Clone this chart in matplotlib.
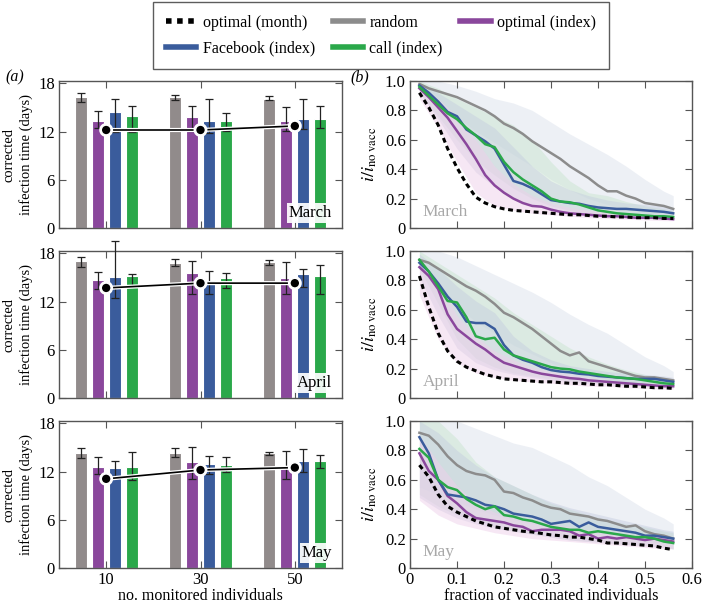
import matplotlib
matplotlib.use('Agg')
import matplotlib.pyplot as plt
import matplotlib.patheffects as pe
from matplotlib.lines import Line2D
from matplotlib.ticker import FuncFormatter
import numpy as np

plt.rcParams['font.family'] = 'serif'
plt.rcParams['font.serif'] = ['Liberation Serif', 'DejaVu Serif']
plt.rcParams['mathtext.fontset'] = 'stix'
plt.rcParams['font.size'] = 11

# Colours
c_rand = '#918b8b'
c_opt = '#8a479c'
c_fb = '#3a5c9c'
c_call = '#2aa84a'

months = ['March', 'April', 'May']
groups = [10, 30, 50]

# Bar data (rows: March, April, May; columns: 10, 30, 50 monitored)
rand_mean = [[16.3, 16.3, 16.1], [17.0, 16.8, 16.9], [14.3, 14.3, 14.3]]
rand_lo = [[15.7, 15.9, 15.9], [16.3, 16.4, 16.6], [13.7, 13.8, 14.1]]
rand_hi = [[16.8, 16.6, 16.4], [17.6, 17.3, 17.2], [15.0, 14.9, 14.5]]
opt_mean = [[13.3, 13.8, 13.3], [14.7, 15.6, 15.0], [12.6, 13.2, 12.8]]
opt_lo = [[12.4, 12.1, 12.1], [13.6, 12.9, 12.9], [11.7, 11.1, 11.1]]
opt_hi = [[14.6, 15.2, 15.1], [15.7, 17.0, 16.9], [13.8, 15.1, 14.6]]
fb_mean = [[14.5, 13.3, 13.6], [15.1, 14.7, 15.4], [12.4, 12.9, 13.3]]
fb_lo = [[12.0, 11.8, 12.3], [12.5, 13.0, 13.8], [11.5, 11.7, 11.9]]
fb_hi = [[16.1, 16.0, 16.1], [19.5, 15.8, 16.1], [13.3, 14.0, 14.8]]
call_mean = [[13.9, 13.3, 13.6], [15.2, 14.9, 15.2], [12.6, 12.8, 13.3]]
call_lo = [[12.0, 12.1, 12.5], [13.9, 13.7, 12.9], [10.9, 12.0, 12.4]]
call_hi = [[15.2, 14.3, 15.2], [15.4, 15.5, 16.6], [14.5, 13.8, 14.1]]
month_opt = [[12.2, 12.2, 12.7], [13.7, 14.3, 14.3], [11.1, 12.2, 12.5]]

# Line data
frac = [0.02, 0.04, 0.06, 0.08, 0.10, 0.12, 0.14, 0.16, 0.18, 0.20,
        0.22, 0.24, 0.26, 0.28, 0.30, 0.32, 0.34, 0.36, 0.38, 0.40,
        0.42, 0.44, 0.46, 0.48, 0.50, 0.52, 0.54, 0.56]

line_month = [
    [0.92, 0.82, 0.70, 0.54, 0.41, 0.30, 0.21, 0.17, 0.145, 0.13, 0.12, 0.115, 0.11, 0.105,
     0.10, 0.095, 0.09, 0.09, 0.085, 0.08, 0.08, 0.075, 0.075, 0.07, 0.07, 0.07, 0.065, 0.065],
    [0.83, 0.62, 0.44, 0.32, 0.25, 0.21, 0.185, 0.16, 0.145, 0.13, 0.125, 0.12, 0.115, 0.11,
     0.11, 0.105, 0.10, 0.10, 0.095, 0.09, 0.09, 0.085, 0.08, 0.08, 0.075, 0.07, 0.07, 0.065],
    [0.70, 0.62, 0.50, 0.42, 0.38, 0.35, 0.32, 0.30, 0.28, 0.27, 0.26, 0.25, 0.245, 0.235,
     0.225, 0.22, 0.21, 0.21, 0.20, 0.19, 0.17, 0.17, 0.165, 0.16, 0.155, 0.15, 0.135, 0.125],
]
line_rand = [
    [0.98, 0.95, 0.93, 0.91, 0.89, 0.86, 0.83, 0.80, 0.76, 0.71, 0.68, 0.64, 0.59, 0.55,
     0.51, 0.47, 0.42, 0.38, 0.34, 0.29, 0.25, 0.25, 0.22, 0.20, 0.17, 0.16, 0.15, 0.13],
    [0.94, 0.92, 0.88, 0.84, 0.80, 0.76, 0.73, 0.69, 0.64, 0.58, 0.55, 0.51, 0.47, 0.42,
     0.37, 0.32, 0.29, 0.31, 0.25, 0.23, 0.21, 0.19, 0.17, 0.15, 0.14, 0.14, 0.13, 0.12],
    [0.92, 0.90, 0.84, 0.76, 0.70, 0.66, 0.64, 0.63, 0.60, 0.52, 0.51, 0.48, 0.46, 0.43,
     0.41, 0.40, 0.37, 0.36, 0.35, 0.33, 0.32, 0.30, 0.28, 0.29, 0.25, 0.23, 0.22, 0.20],
]
line_opt = [
    [0.95, 0.89, 0.82, 0.75, 0.66, 0.57, 0.47, 0.36, 0.29, 0.24, 0.20, 0.17, 0.15, 0.145,
     0.125, 0.11, 0.10, 0.095, 0.09, 0.085, 0.08, 0.08, 0.075, 0.07, 0.07, 0.07, 0.065, 0.06],
    [0.89, 0.83, 0.74, 0.57, 0.47, 0.42, 0.37, 0.33, 0.28, 0.24, 0.22, 0.20, 0.18, 0.165,
     0.155, 0.145, 0.135, 0.13, 0.12, 0.115, 0.11, 0.105, 0.10, 0.095, 0.09, 0.085, 0.08, 0.08],
    [0.78, 0.66, 0.60, 0.49, 0.44, 0.38, 0.34, 0.33, 0.32, 0.31, 0.29, 0.28, 0.25, 0.26,
     0.26, 0.26, 0.25, 0.22, 0.23, 0.20, 0.21, 0.20, 0.21, 0.20, 0.19, 0.20, 0.19, 0.18],
]
line_fb = [
    [0.97, 0.92, 0.86, 0.79, 0.76, 0.67, 0.63, 0.59, 0.54, 0.43, 0.32, 0.30, 0.27, 0.23,
     0.19, 0.18, 0.17, 0.165, 0.15, 0.14, 0.135, 0.13, 0.13, 0.125, 0.12, 0.115, 0.11, 0.10],
    [0.92, 0.86, 0.78, 0.69, 0.62, 0.52, 0.51, 0.51, 0.47, 0.36, 0.29, 0.26, 0.24, 0.21,
     0.19, 0.18, 0.175, 0.165, 0.16, 0.15, 0.145, 0.14, 0.135, 0.13, 0.13, 0.13, 0.12, 0.11],
    [0.89, 0.78, 0.60, 0.50, 0.49, 0.48, 0.46, 0.43, 0.42, 0.40, 0.37, 0.36, 0.35, 0.33,
     0.30, 0.31, 0.32, 0.28, 0.31, 0.28, 0.27, 0.26, 0.25, 0.24, 0.22, 0.22, 0.21, 0.20],
]
line_call = [
    [0.96, 0.90, 0.84, 0.78, 0.74, 0.68, 0.63, 0.57, 0.55, 0.45, 0.38, 0.33, 0.29, 0.25,
     0.20, 0.18, 0.175, 0.16, 0.14, 0.12, 0.11, 0.10, 0.095, 0.09, 0.085, 0.08, 0.08, 0.075],
    [0.94, 0.86, 0.76, 0.66, 0.65, 0.55, 0.42, 0.40, 0.41, 0.33, 0.29, 0.27, 0.25, 0.23,
     0.21, 0.20, 0.195, 0.18, 0.17, 0.16, 0.15, 0.14, 0.135, 0.13, 0.12, 0.11, 0.10, 0.095],
    [0.81, 0.75, 0.60, 0.55, 0.53, 0.47, 0.43, 0.40, 0.42, 0.36, 0.35, 0.33, 0.32, 0.30,
     0.28, 0.27, 0.26, 0.26, 0.24, 0.25, 0.24, 0.23, 0.22, 0.21, 0.21, 0.20, 0.18, 0.17],
]

# Shaded ranges
band_x = [0.02, 0.06, 0.10, 0.14, 0.18, 0.22, 0.26, 0.30, 0.34, 0.38, 0.42, 0.46, 0.50, 0.54, 0.56]
band_rand_hi = [
    [1.0, 1.0, 0.97, 0.93, 0.88, 0.85, 0.80, 0.72, 0.64, 0.57, 0.50, 0.42, 0.33, 0.25, 0.22],
    [1.0, 1.0, 0.96, 0.90, 0.84, 0.78, 0.72, 0.65, 0.57, 0.50, 0.44, 0.36, 0.28, 0.22, 0.18],
    [1.0, 1.0, 1.0, 0.95, 0.90, 0.85, 0.82, 0.76, 0.70, 0.62, 0.56, 0.48, 0.40, 0.34, 0.30],
]
band_rand_lo = [
    [0.95, 0.86, 0.75, 0.66, 0.58, 0.50, 0.42, 0.33, 0.26, 0.20, 0.16, 0.13, 0.10, 0.09, 0.08],
    [0.88, 0.74, 0.62, 0.52, 0.44, 0.36, 0.30, 0.24, 0.19, 0.15, 0.13, 0.11, 0.10, 0.09, 0.08],
    [0.55, 0.50, 0.45, 0.40, 0.36, 0.33, 0.30, 0.28, 0.26, 0.24, 0.22, 0.20, 0.18, 0.17, 0.16],
]
band_call_hi = [
    [1.0, 0.95, 0.88, 0.82, 0.76, 0.70, 0.60, 0.45, 0.32, 0.24, 0.22, 0.18, 0.15, 0.13, 0.12],
    [1.0, 0.92, 0.84, 0.76, 0.68, 0.58, 0.50, 0.42, 0.34, 0.28, 0.23, 0.19, 0.16, 0.14, 0.13],
    [1.0, 1.0, 0.88, 0.72, 0.62, 0.56, 0.50, 0.44, 0.40, 0.36, 0.33, 0.30, 0.28, 0.25, 0.24],
]
band_call_lo = [
    [0.92, 0.76, 0.60, 0.46, 0.36, 0.27, 0.20, 0.15, 0.12, 0.10, 0.09, 0.08, 0.07, 0.07, 0.06],
    [0.88, 0.64, 0.40, 0.27, 0.21, 0.17, 0.15, 0.13, 0.12, 0.11, 0.10, 0.09, 0.08, 0.08, 0.07],
    [0.50, 0.42, 0.36, 0.32, 0.28, 0.25, 0.23, 0.21, 0.19, 0.18, 0.17, 0.16, 0.15, 0.14, 0.13],
]
band_fb_hi = [
    [0.99, 0.92, 0.84, 0.76, 0.68, 0.55, 0.42, 0.32, 0.26, 0.22, 0.19, 0.17, 0.16, 0.15, 0.14],
    [0.98, 0.88, 0.76, 0.66, 0.58, 0.42, 0.32, 0.26, 0.22, 0.20, 0.18, 0.17, 0.16, 0.15, 0.14],
    [1.0, 0.92, 0.80, 0.70, 0.62, 0.56, 0.50, 0.45, 0.41, 0.38, 0.35, 0.32, 0.29, 0.26, 0.25],
]
band_fb_lo = [
    [0.92, 0.74, 0.54, 0.38, 0.28, 0.20, 0.16, 0.13, 0.11, 0.10, 0.09, 0.08, 0.08, 0.07, 0.07],
    [0.82, 0.56, 0.34, 0.24, 0.19, 0.16, 0.14, 0.12, 0.11, 0.10, 0.09, 0.085, 0.08, 0.075, 0.07],
    [0.48, 0.40, 0.34, 0.30, 0.27, 0.25, 0.23, 0.21, 0.19, 0.18, 0.17, 0.16, 0.15, 0.14, 0.13],
]
band_opt_hi = [
    [0.97, 0.88, 0.76, 0.60, 0.42, 0.30, 0.22, 0.17, 0.14, 0.12, 0.11, 0.10, 0.09, 0.08, 0.08],
    [0.94, 0.80, 0.56, 0.42, 0.32, 0.26, 0.21, 0.18, 0.16, 0.14, 0.12, 0.11, 0.10, 0.09, 0.09],
    [0.90, 0.72, 0.56, 0.44, 0.38, 0.34, 0.32, 0.30, 0.28, 0.26, 0.25, 0.23, 0.22, 0.21, 0.20],
]
band_opt_lo = [
    [0.88, 0.68, 0.45, 0.24, 0.15, 0.12, 0.10, 0.09, 0.08, 0.07, 0.065, 0.06, 0.055, 0.05, 0.05],
    [0.70, 0.40, 0.24, 0.17, 0.14, 0.12, 0.11, 0.10, 0.09, 0.08, 0.08, 0.07, 0.065, 0.06, 0.06],
    [0.46, 0.36, 0.30, 0.27, 0.24, 0.22, 0.20, 0.19, 0.18, 0.17, 0.16, 0.15, 0.14, 0.13, 0.13],
]

W, H = 702, 605
fig = plt.figure(figsize=(W / 100, H / 100), dpi=100)

row_bottoms = [228, 398, 568]
row_h = 147
spine_c = '#555555'


def style_axes(ax):
    for s in ax.spines.values():
        s.set_color(spine_c)
        s.set_linewidth(1.0)
    ax.tick_params(direction='in', top=True, right=True, length=5,
                   color=spine_c, labelsize=12, pad=3)


dash = (0, (1.6, 1.2))
bar_w = 2.5
offsets = [-5.4, -1.8, 1.8, 5.4]
bar_sets = [(rand_mean, rand_lo, rand_hi, c_rand),
            (opt_mean, opt_lo, opt_hi, c_opt),
            (fb_mean, fb_lo, fb_hi, c_fb),
            (call_mean, call_lo, call_hi, c_call)]

for i, month in enumerate(months):
    y0 = (H - row_bottoms[i]) / H
    h = row_h / H

    # left: bar chart
    ax = fig.add_axes([59 / W, y0, 283 / W, h])
    style_axes(ax)
    g = np.array(groups, dtype=float)
    for off, (mean, lo, hi, col) in zip(offsets, bar_sets):
        m = np.array(mean[i])
        err = [m - np.array(lo[i]), np.array(hi[i]) - m]
        ax.bar(g + off, m, width=bar_w, color=col, edgecolor='white', lw=0.8, zorder=2)
        ax.errorbar(g + off, m, yerr=err, fmt='none', ecolor='#222222',
                    elinewidth=0.9, capsize=3, capthick=0.9, zorder=3, clip_on=False)
    ax.plot(groups, month_opt[i], color='black', lw=1.2, marker='o', ms=7,
            mfc='black', mec='white', mew=1.0, zorder=5,
            path_effects=[pe.Stroke(linewidth=3, foreground='white'), pe.Normal()])
    ax.set_xlim(0, 60)
    ax.set_ylim(0, 18.3)
    ax.set_xticks(groups)
    ax.set_yticks([0, 6, 12, 18])
    ax.set_ylabel('corrected\ninfection time (days)', fontsize=10.5, linespacing=1.3, labelpad=4)
    ax.text(0.965, 0.105, month, transform=ax.transAxes, ha='right', va='center',
            fontsize=12, zorder=6,
            bbox=dict(boxstyle='square,pad=0.12', fc='white', ec='none', alpha=0.92))
    if i < 2:
        ax.set_xticklabels([])
    else:
        ax.set_xlabel('no. monitored individuals', fontsize=11.5, labelpad=0)

    # right: vaccination curves
    bx = fig.add_axes([410 / W, y0, 282 / W, h])
    style_axes(bx)
    bx.fill_between(band_x, band_rand_lo[i], band_rand_hi[i], color='#dfe4ee', alpha=0.55, lw=0)
    bx.fill_between(band_x, band_call_lo[i], band_call_hi[i], color='#c6e3cc', alpha=0.45, lw=0)
    bx.fill_between(band_x, band_fb_lo[i], band_fb_hi[i], color='#c4cbdf', alpha=0.45, lw=0)
    bx.fill_between(band_x, band_opt_lo[i], band_opt_hi[i], color='#eed0ea', alpha=0.5, lw=0)
    bx.plot(frac, line_rand[i], color='#8c8c8c', lw=1.8)
    bx.plot(frac, line_opt[i], color=c_opt, lw=1.8)
    bx.plot(frac, line_fb[i], color=c_fb, lw=1.8)
    bx.plot(frac, line_call[i], color=c_call, lw=1.8)
    bx.plot(frac, line_month[i], color='black', lw=2.2, ls=dash)
    bx.set_xlim(0, 0.6)
    bx.set_ylim(0, 1.0)
    bx.set_xticks([0, 0.1, 0.2, 0.3, 0.4, 0.5, 0.6])
    bx.set_yticks([0, 0.2, 0.4, 0.6, 0.8, 1.0])
    fmt = FuncFormatter(lambda v, p: '0' if abs(v) < 1e-9 else '%.1f' % v)
    bx.yaxis.set_major_formatter(fmt)
    bx.xaxis.set_major_formatter(fmt)
    bx.set_ylabel(r'$i/i_{\mathrm{no\ vacc}}$', fontsize=13, labelpad=4)
    bx.text(0.045, 0.11, month, transform=bx.transAxes, ha='left', va='center',
            fontsize=12.5, color='#a8a8a8')
    if i < 2:
        bx.set_xticklabels([])
    else:
        bx.set_xlabel('fraction of vaccinated individuals', fontsize=11.5, labelpad=0)

fig.text(5 / W, 1 - 77 / H, '(a)', fontsize=11.5, style='italic', va='center')
fig.text(350 / W, 1 - 77 / H, '(b)', fontsize=11.5, style='italic', va='center')

# legend
handles = [
    Line2D([], [], color='black', lw=4, ls=(0, (1, 1))),
    Line2D([], [], color=c_fb, lw=4),
    Line2D([], [], color='#8c8c8c', lw=4),
    Line2D([], [], color=c_call, lw=4),
    Line2D([], [], color=c_opt, lw=4),
]
labels = ['optimal (month)', 'Facebook (index)', 'random', 'call (index)', 'optimal (index)']
leg = fig.legend(handles, labels, loc='upper center', bbox_to_anchor=(381 / W, 1 - 2 / H),
                 ncol=3, fontsize=11.5, frameon=True, fancybox=False, handlelength=1.9,
                 columnspacing=1.1, handletextpad=0.4, borderpad=0.8, labelspacing=0.6,
                 borderaxespad=0)
leg.get_frame().set_edgecolor('#333333')
leg.get_frame().set_linewidth(1.0)

fig.savefig('out.png', dpi=100)
